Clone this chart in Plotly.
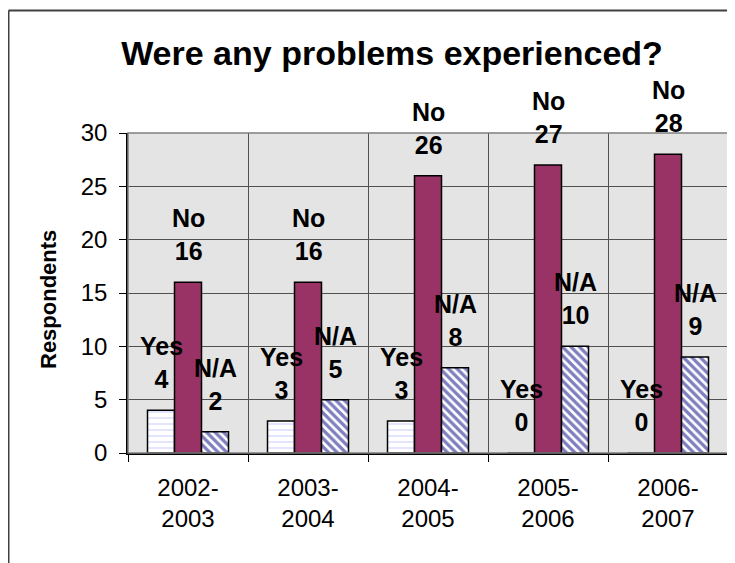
import plotly.graph_objects as go

categories = ["2002-2003", "2003-2004", "2004-2005", "2005-2006", "2006-2007"]
tick_labels = ["2002-<br>2003", "2003-<br>2004", "2004-<br>2005", "2005-<br>2006", "2006-<br>2007"]
series_names = ["Yes", "No", "N/A"]
yes_values = [4, 3, 3, 0, 0]
no_values = [16, 16, 26, 27, 28]
na_values = [2, 5, 8, 10, 9]
y_ticks = [0, 5, 10, 15, 20, 25, 30]

FONT = "Liberation Sans, Arial, sans-serif"

# page body has an 8px margin; figure coordinates are screen - 8
W, H = 727, 555
L, R, T, B = 120, 7, 125, 110
PW = W - L - R
PH = H - T - B

fig = go.Figure()
fig.add_trace(go.Bar(
    name="Yes", x=categories, y=yes_values,
    marker=dict(color="white", line=dict(color="black", width=1.5),
                pattern=dict(shape="-", fgcolor="#a0a8ff", size=6, solidity=0.2)),
))
fig.add_trace(go.Bar(
    name="No", x=categories, y=no_values,
    marker=dict(color="#993366", line=dict(color="black", width=1.5)),
))
fig.add_trace(go.Bar(
    name="N/A", x=categories, y=na_values,
    marker=dict(color="white", line=dict(color="black", width=1.5),
                pattern=dict(shape="\\", fgcolor="#000080", size=6, solidity=0.55)),
))

annotations = []
all_vals = [yes_values, no_values, na_values]
for si, (name, vals) in enumerate(zip(series_names, all_vals)):
    for c, v in zip(categories, vals):
        annotations.append(dict(
            x=c, y=v, xref="x", yref="y", text=f"{name}<br>{v}",
            showarrow=False, xshift=(si - 1) * 27, yshift=15, yanchor="bottom",
            font=dict(family=FONT, size=25, color="black", weight="bold"),
        ))

annotations.append(dict(
    x=(40 - L) / PW, y=(T + PH - 292) / PH, xref="paper", yref="paper",
    xanchor="center", yanchor="middle",
    text="<b>Respondents</b>", textangle=-90, showarrow=False,
    font=dict(family=FONT, size=22, color="black"),
))

fig.update_layout(
    width=W, height=H,
    margin=dict(l=L, r=R, t=T, b=B),
    paper_bgcolor="white", plot_bgcolor="#e4e4e4",
    barmode="group", bargap=0.325, bargroupgap=0,
    showlegend=False,
    title=dict(text="<b>Were any problems experienced?</b>",
               font=dict(family=FONT, size=34, color="black"),
               xref="container", x=384 / W, xanchor="center",
               yref="container", y=1 - 45 / H, yanchor="middle"),
    font=dict(family=FONT, size=24, color="black"),
    annotations=annotations,
    shapes=[
        dict(type="rect", xref="paper", yref="paper", x0=0, y0=0, x1=1, y1=1,
             line=dict(color="#7f7f7f", width=1.5), layer="above"),
        dict(type="line", xref="paper", yref="paper",
             x0=(0.5 - L) / PW, x1=1.3, y0=(T + PH - 2.5) / PH, y1=(T + PH - 2.5) / PH,
             line=dict(color="#404040", width=2)),
        dict(type="line", xref="paper", yref="paper",
             x0=(0.5 - L) / PW, x1=(0.5 - L) / PW, y0=(T + PH - 2.5) / PH, y1=-0.5,
             line=dict(color="#404040", width=2)),
    ],
)

fig.update_xaxes(
    tickmode="array", tickvals=categories, ticktext=tick_labels,
    tickson="boundaries", ticks="outside", ticklen=7, tickcolor="black",
    showgrid=True, gridcolor="#505050", gridwidth=1,
    showline=True, linecolor="black", linewidth=1.5,
    ticklabelstandoff=12,
    tickfont=dict(family=FONT, size=24, color="black"),
)
fig.update_yaxes(
    range=[0, 30], tickvals=y_ticks,
    ticks="outside", ticklen=7, tickcolor="black",
    showgrid=True, gridcolor="#505050", gridwidth=1,
    showline=True, linecolor="black", linewidth=1.5,
    zeroline=False, ticklabelstandoff=7,
    tickfont=dict(family=FONT, size=24, color="black"),
)

fig.write_html("out.html")
